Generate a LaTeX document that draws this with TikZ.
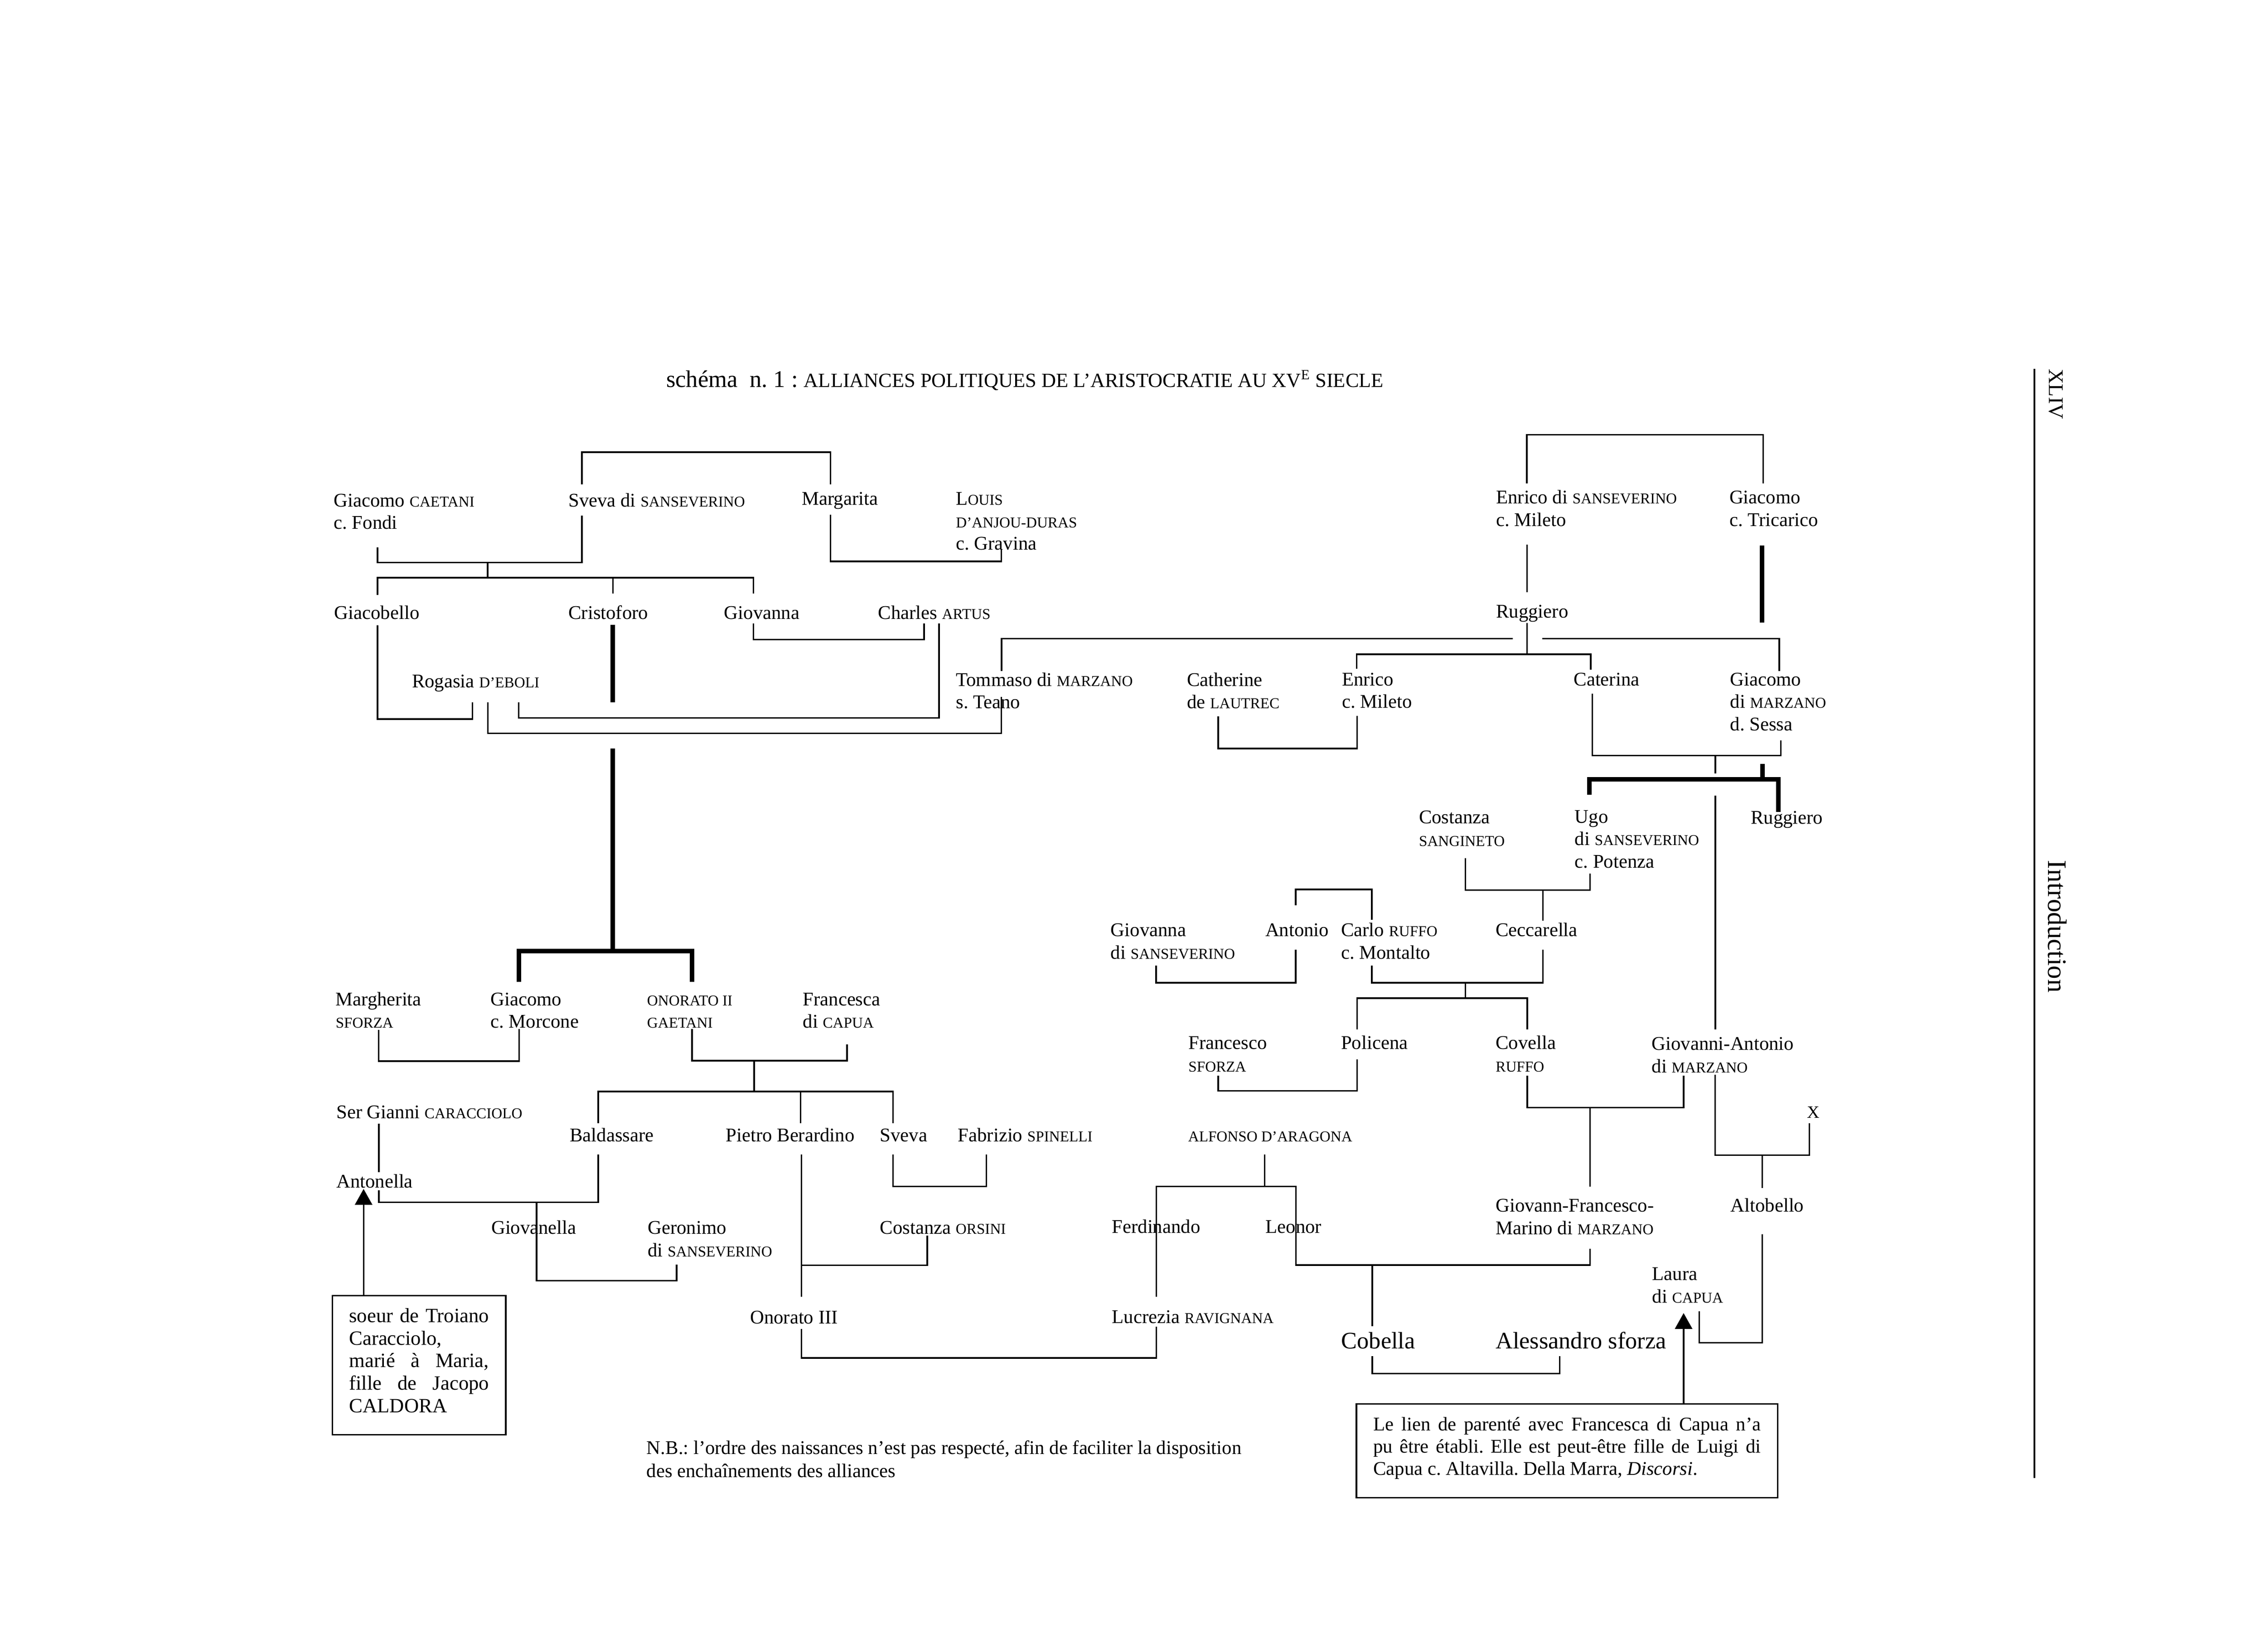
\documentclass[tikz,border=0pt]{standalone}
\usepackage{fontspec}
\setmainfont{Liberation Serif}
\usetikzlibrary{arrows.meta}
\frenchspacing
\newcommand\SC[1]{{\fontsize{10.4}{12}\selectfont #1}}
\newcommand\ml[1]{\vtop{\baselineskip=15.6pt\lineskiplimit=-100pt\halign{##\hfil\cr#1\crcr}}}
\newcommand\bstrut{\vrule height10pt depth0pt width0pt}
\newcommand\jline[1]{\hbox to\hsize{\bstrut #1}}
\newcommand\lline[1]{\hbox to\hsize{\bstrut #1\hfil}}
\begin{document}
\frenchspacing
\begin{tikzpicture}[x=1pt,y=-1pt,
  every node/.style={inner sep=0pt,outer sep=0pt,font=\fontsize{13.4}{15.6}\selectfont},
  person/.style={anchor=base west},
  big/.style={anchor=base west,font=\fontsize{16.4}{18}\selectfont},
  notebox/.style={draw,line width=1pt,anchor=north west,inner ysep=0pt},
  ln/.style={line width=1.1pt},
  thk/.style={line width=3.1pt},
  arrowup/.style={line width=1.1pt,-{Triangle[width=12pt,length=11pt]}}]
\fill[white] (0,0) rectangle (1568,1143.2);
\useasboundingbox (0,0) rectangle (1568,1143.2);

% title and margin
\node[person] (title) at (461,268) {{\fontsize{16.5}{18}\selectfont schéma\ \ n. 1 :\ }{\fontsize{13.9}{16}\selectfont ALLIANCES POLITIQUES DE L’ARISTOCRATIE AU XV\textsuperscript{E} SIECLE}};
\node[rotate=-90,anchor=base west,font=\fontsize{14.5}{16}\selectfont] (xliv) at (1417.9,255.4) {XLIV};
\node[rotate=-90,anchor=base west,font=\fontsize{18.5}{20}\selectfont] (intro) at (1417.4,595.5) {Introduction};
\coordinate (rtop) at (1407.8,255.4);
\coordinate (rbot) at (1407.8,1023);
\draw[line width=1.2pt] (rtop) -- (rbot);

% persons
\node[person] (giacomoC) at (231,350.6) {\ml{Giacomo \SC{CAETANI}\cr c. Fondi}};
\node[person] (sveva) at (393.4,350.6) {Sveva di \SC{SANSEVERINO}};
\node[person] (margarita) at (554.9,349.5) {Margarita};
\node[person] (louis) at (661.5,349.5) {\ml{L\SC{OUIS}\cr \SC{D’ANJOU-DURAS}\cr c. Gravina}};
\node[person] (enricoS) at (1035.3,348.5) {\ml{Enrico di \SC{SANSEVERINO}\cr c. Mileto}};
\node[person] (giacomoT) at (1196.7,348.5) {\ml{Giacomo\cr c. Tricarico}};
\node[person] (giacobello) at (231.4,428.5) {Giacobello};
\node[person] (cristoforo) at (393.4,428.5) {Cristoforo};
\node[person] (giovanna) at (501.1,428.5) {Giovanna};
\node[person] (charles) at (607.6,428.5) {Charles \SC{ARTUS}};
\node[person] (ruggiero) at (1035.3,427.5) {Ruggiero};
\node[person] (rogasia) at (285.1,476) {Rogasia \SC{D’EBOLI}};
\node[person] (tommaso) at (661.5,474.8) {\ml{Tommaso di \SC{MARZANO}\cr s. Teano}};
\node[person] (catherine) at (821.4,474.8) {\ml{Catherine\cr de \SC{LAUTREC}}};
\node[person] (enricoM) at (928.6,474.5) {\ml{Enrico\cr c. Mileto}};
\node[person] (caterina) at (1089,474.5) {Caterina};
\node[person] (giacomoM) at (1197.2,474.5) {\ml{Giacomo\cr di \SC{MARZANO}\cr d. Sessa}};
\node[person] (costanzaS) at (981.9,570) {\ml{Costanza\cr \SC{SANGINETO}}};
\node[person] (ugo) at (1089.7,569.5) {\ml{Ugo\cr di \SC{SANSEVERINO}\cr c. Potenza}};
\node[person] (ruggieroB) at (1211.5,570.3) {Ruggiero};
\node[person] (giovannaS) at (768.6,648) {\ml{Giovanna\cr di \SC{SANSEVERINO}}};
\node[person] (antonio) at (875.6,648) {Antonio};
\node[person] (carlo) at (928,648) {\ml{Carlo \SC{RUFFO}\cr c. Montalto}};
\node[person] (ceccarella) at (1035,648) {Ceccarella};
\node[person] (margherita) at (232.3,695.9) {\ml{Margherita\cr \SC{SFORZA}}};
\node[person] (giacomoMo) at (339.5,695.9) {\ml{Giacomo\cr c. Morcone}};
\node[person] (onorato) at (447.8,695.9) {\ml{\SC{ONORATO II}\cr \SC{GAETANI}}};
\node[person] (francesca) at (555.6,695.9) {\ml{Francesca\cr di \SC{CAPUA}}};
\node[person] (francesco) at (822.4,726.1) {\ml{Francesco\cr \SC{SFORZA}}};
\node[person] (policena) at (928,726.1) {Policena};
\node[person] (covella) at (1035,726.1) {\ml{Covella\cr \SC{RUFFO}}};
\node[person] (giovanniA) at (1143,726.7) {\ml{Giovanni-Antonio\cr di \SC{MARZANO}}};
\node[person,font=\fontsize{12}{14}\selectfont] (xnode) at (1250.5,773.8) {X};
\node[person] (sergianni) at (232.8,774) {Ser Gianni \SC{CARACCIOLO}};
\node[person] (baldassare) at (394.3,790) {Baldassare};
\node[person] (pietro) at (502.3,790) {Pietro Berardino};
\node[person] (svevaB) at (608.9,790) {Sveva};
\node[person] (fabrizio) at (662.9,790) {Fabrizio \SC{SPINELLI}};
\node[person] (alfonso) at (822.2,790) {\SC{ALFONSO D’ARAGONA}};
\node[person] (antonella) at (232.8,822) {Antonella};
\node[person] (giovannF) at (1035,838.7) {\ml{Giovann-Francesco-\cr Marino di \SC{MARZANO}}};
\node[person] (altobello) at (1197.6,838.7) {Altobello};
\node[person] (giovanella) at (340,854) {Giovanella};
\node[person] (geronimo) at (448.3,854) {\ml{Geronimo\cr di \SC{SANSEVERINO}}};
\node[person] (costanzaO) at (608.9,854) {Costanza \SC{ORSINI}};
\node[person] (ferdinando) at (769.5,853.3) {Ferdinando};
\node[person] (leonor) at (875.8,853.3) {Leonor};
\node[person] (laura) at (1143.3,886) {\ml{Laura\cr di \SC{CAPUA}}};
\node[person] (onoratoIII) at (519.1,916.2) {Onorato III};
\node[person] (lucrezia) at (769.5,915.8) {Lucrezia \SC{RAVIGNANA}};
\node[big] (cobella) at (928.2,933.5) {Cobella};
\node[big] (alessandro) at (1035,933.5) {Alessandro sforza};

% notes
\node[notebox,inner xsep=11.65pt,font=\fontsize{14}{15.55}\selectfont] (note1) at (230,896.7)
 {\vbox to 96.3pt{\hsize=96.7pt\baselineskip=15.55pt\lineskiplimit=-100pt\kern8.6pt
   \jline{soeur de Troiano}\lline{Caracciolo,}\jline{marié à Maria,}\jline{fille de Jacopo}\lline{CALDORA}\vss}};
\node[notebox,inner xsep=11.75pt] (note2) at (938.6,971.6)
 {\vbox to 64.9pt{\hsize=268.1pt\baselineskip=15.4pt\lineskiplimit=-100pt\kern8.6pt
   \jline{Le lien de parenté avec Francesca di Capua n’a}\jline{pu être établi. Elle est peut-être fille de Luigi di}\lline{Capua c. Altavilla. Della Marra, \textit{Discorsi}.}\vss}};
\node[person] (nb) at (447.5,1006.5) {\vtop{\baselineskip=16pt\halign{#\hfil\cr N.B.: l’ordre des naissances n’est pas respecté, afin de faciliter la disposition\cr des enchaînements des alliances\crcr}}};

\draw[arrowup] ([xshift=21.6pt]note1.north west) -- ++(0,-73.8);
\draw[arrowup] ([xshift=226.4pt]note2.north west) -- ++(0,-62.8);

\begin{scope}[ln]
% top left
\draw (402.6,335.3) -- (402.6,312.9) -- (574.7,312.9) -- (574.7,335.2);
\draw (261.2,378.8) |- (402.6,389.4) -- (402.6,356.9);
\draw (337.4,389.4) -- (337.4,399.9);
\draw (261.2,411.8) |- (521.4,399.9) -- (521.4,410.8);
\draw (424.1,399.9) -- (424.1,410.8);
\draw (574.7,356.1) |- (692.9,388.5) -- (692.9,380);
\draw (521.4,431.5) |- (639.5,442.7) -- (639.5,431.5);
\draw (261.3,432.7) |- (326.9,497.6) -- (326.9,486);
\draw (337.6,486) |- (692.9,507.6) -- (692.9,482.3);
\draw (358.9,486) |- (649.7,496.9) -- (649.7,431.5);
% top right
\draw (1056.5,334.5) |- (1220,300.9) -- (1220,334.5);
\draw (1056.7,377) -- (1056.7,409.9);
\draw (1056.7,431.2) -- (1056.7,452.9);
\draw (693,464.4) |- (1046.8,442);
\draw (1067.2,442) -| (1231.2,464.3);
\draw (938.8,462.9) |- (1100.7,452.9) -- (1100.7,463.5);
\draw (843,495.7) |- (939,518.1) -- (939,495.4);
\draw (1101.8,480) |- (1232.2,522.9) -- (1232.2,512.4);
\draw (1187,522.9) -- (1187,535.2);
\draw (1187,550.7) -- (1187,712.5);
\draw (1014,594) |- (1100.3,616.1) -- (1100.3,604.6);
\draw (1067.7,616.1) -- (1067.7,637.3);
\draw (896.6,626.7) |- (949.3,615.6) -- (949.3,636.5);
\draw (800,668.4) |- (896.6,680.2) -- (896.6,657.4);
\draw (949.3,668.4) |- (1067.7,680.2) -- (1067.7,657.4);
\draw (1014,680.2) -- (1014,690.8);
\draw (939.1,712.5) |- (1056.8,690.8) -- (1056.8,712.5);
\draw (843,744.4) |- (939.1,755) -- (939.1,733.3);
\draw (1056.8,744.4) |- (1165,766.6) -- (1165,744.4);
\draw (1100.3,766.6) -- (1100.3,821.2);
\draw (1186.8,743.9) |- (1252,799.5) -- (1252,777.5);
\draw (1219.4,799.5) -- (1219.4,822.2);
\draw (1219.4,854.2) |- (1175.9,929.4) -- (1175.9,907.7);
\draw (875.1,799) -- (875.1,821.2);
\draw (800.2,897.5) |- (896.7,821.2) |- (1100.3,875.6) -- (1100.3,864.4);
\draw (949.5,875.6) -- (949.5,918);
\draw (949.5,938.6) |- (1079.2,950.6) -- (1079.2,938.6);
% lower left
\draw (262,712.8) |- (359.2,734.4) -- (359.2,712.1);
\draw (478.9,712.1) |- (586.1,734.1) -- (586.1,722.9);
\draw (521.9,734.1) -- (521.9,755.4);
\draw (413.9,777.3) |- (618,755.4) -- (618,777.3);
\draw (554,755.4) -- (554,777.3);
\draw (262.1,777.6) -- (262.1,811.4);
\draw (262.1,823.8) |- (413.9,832.2) -- (413.9,798.9);
\draw (371.3,832.2) -- (371.3,886.3) -| (468.2,875.3);
\draw (554.6,798.9) -- (554.6,897.5);
\draw (554.6,875.7) -| (641.6,855.2);
\draw (618,798.9) |- (682.5,821.2) -- (682.5,799);
\draw (554.6,919.7) |- (800.2,939.8) -- (800.2,918.2);
\end{scope}

\begin{scope}[thk]
\draw (424.1,432.3) -- (424.1,486);
\draw (424.1,518) -- (424.1,658.1);
\draw (359.2,679.7) |- (478.9,658.1) -- (478.9,679.7);
\draw (1219.2,377.5) -- (1219.2,430.8);
\draw (1099.9,549.9) |- (1230.6,539.3) -- (1230.6,562.1);
\draw (1219.7,528.6) -- (1219.7,539.3);
\end{scope}
\end{tikzpicture}
\end{document}
